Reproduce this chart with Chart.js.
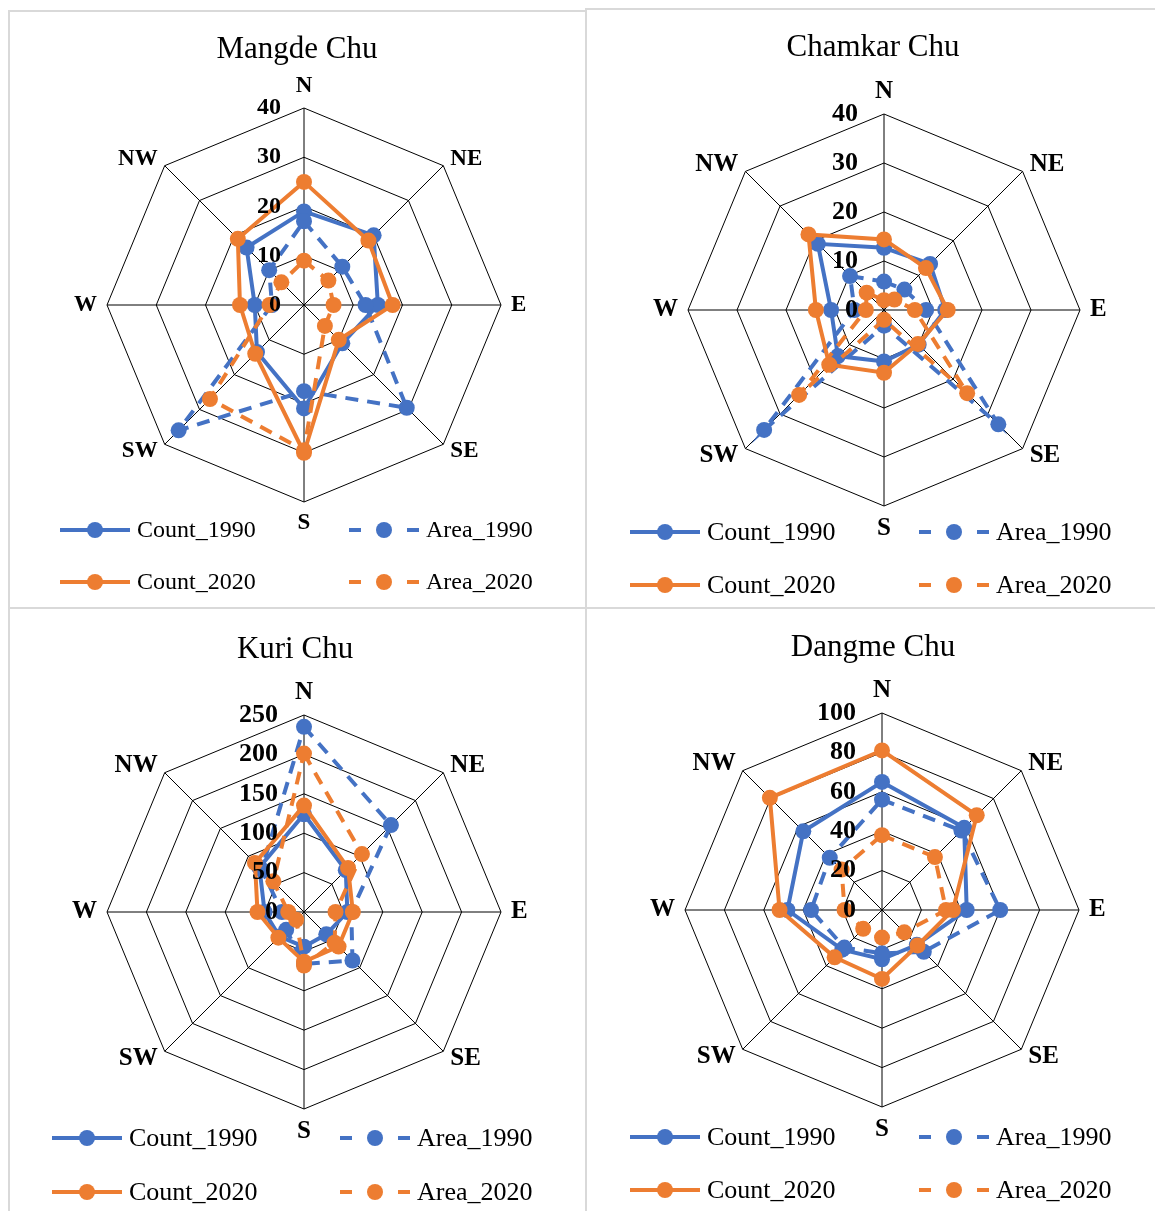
<!DOCTYPE html>
<html>
<head>
<meta charset="utf-8">
<script src="https://cdn.jsdelivr.net/npm/chart.js@4.4.1/dist/chart.umd.min.js"></script>
<style>
  body { margin: 0; background: #fff; }
  #page { position: relative; width: 1155px; height: 1211px; overflow: hidden; }
  .panel { position: absolute; box-sizing: border-box; border: 2px solid #d9d9d9; }
  canvas { position: absolute; }
</style>
</head>
<body>
<div id="page">
  <div class="panel" style="left:8px;top:10px;width:579px;height:599px"></div>
  <div class="panel" style="left:585px;top:8px;width:572px;height:601px"></div>
  <div class="panel" style="left:8px;top:607px;width:579px;height:606px"></div>
  <div class="panel" style="left:585px;top:607px;width:572px;height:606px"></div>
  <canvas id="mangde" width="577" height="597" style="left:8px;top:10px"></canvas>
  <canvas id="chamkar" width="570" height="599" style="left:585px;top:8px"></canvas>
  <canvas id="kuri" width="577" height="604" style="left:8px;top:607px"></canvas>
  <canvas id="dangme" width="570" height="604" style="left:585px;top:607px"></canvas>
</div>
<script>
const directions = ['N', 'NE', 'E', 'SE', 'S', 'SW', 'W', 'NW'];

// Mangde Chu
const mangdeCount1990 = [19, 20, 15, 11, 21, 13.5, 10, 16.5];
const mangdeArea1990  = [17, 11, 12.5, 29.5, 17.5, 36, 6.5, 10];
const mangdeCount2020 = [25, 18.5, 18, 10, 30, 14, 13, 19];
const mangdeArea2020  = [9, 7, 6, 6, 29.5, 27, 7, 6.5];
const mangdeTicks = [0, 10, 20, 30, 40];

// Chamkar Chu
const chamkarCount1990 = [12.7, 13.3, 12.5, 10, 10.5, 13.3, 10.8, 19.1];
const chamkarArea1990  = [5.8, 5.9, 8.6, 33, 3.2, 34.6, 6, 9.8];
const chamkarCount2020 = [14.4, 12.1, 13, 9.8, 12.8, 15.8, 13.9, 21.8];
const chamkarArea2020  = [2, 3, 6.3, 24, 2, 24.5, 3.7, 5];
const chamkarTicks = [0, 10, 20, 30, 40];

// Kuri Chu
const kuriCount1990 = [124, 75, 55, 40, 44, 44, 50, 80];
const kuriArea1990  = [235, 156, 60, 87, 66, 32, 28, 76];
const kuriCount2020 = [135, 79, 62, 62, 63, 46, 59, 88];
const kuriArea2020  = [201, 104, 40, 55, 68, 14, 20, 55];
const kuriTicks = [0, 50, 100, 150, 200, 250];

// Dangme Chu
const dangmeCount1990 = [65, 59, 43, 25, 25, 28.5, 48, 56.5];
const dangmeArea1990  = [56, 57, 60, 30, 22, 27, 36, 37.5];
const dangmeCount2020 = [81, 68, 36, 25.5, 35, 34, 52, 80.5];
const dangmeArea2020  = [38, 38, 32.5, 16, 14, 13.5, 19, 29];
const dangmeTicks = [0, 20, 40, 60, 80, 100];

const BLUE = '#4472C4';
const ORANGE = '#ED7D31';
const SERIF = "'Times New Roman', 'Liberation Serif', serif";

function seriesSet(c90, a90, c20, a20) {
    return [
        { label: 'Count_1990', data: c90, borderColor: BLUE, backgroundColor: BLUE, order: 4 },
        { label: 'Area_1990', data: a90, borderColor: BLUE, backgroundColor: BLUE, borderDash: [13, 9], order: 3 },
        { label: 'Count_2020', data: c20, borderColor: ORANGE, backgroundColor: ORANGE, order: 2 },
        { label: 'Area_2020', data: a20, borderColor: ORANGE, backgroundColor: ORANGE, borderDash: [13, 9], order: 1 }
    ];
}

// titles, direction labels, tick labels and the 2x2 legend
const decor = {
    id: 'decor',
    afterDraw(chart, args, o) {
        const ctx = chart.ctx;
        const r = chart.scales.r;
        ctx.save();
        ctx.fillStyle = '#000';

        // title
        ctx.font = '31px ' + SERIF;
        ctx.textAlign = 'center';
        ctx.textBaseline = 'middle';
        ctx.fillText(o.title, o.titleX - o.left, o.titleY - o.top);

        // direction labels
        ctx.font = 'bold ' + o.labelSize + 'px ' + SERIF;
        chart.data.labels.forEach(function (lab, i) {
            const p = r.getPointPosition(i, r.drawingArea + 10);
            const dx = p.x - r.xCenter;
            const dy = p.y - r.yCenter;
            if (Math.abs(dx) < 1) {
                ctx.textAlign = 'center';
                ctx.textBaseline = dy < 0 ? 'bottom' : 'top';
            } else {
                ctx.textAlign = dx > 0 ? 'left' : 'right';
                ctx.textBaseline = 'middle';
            }
            ctx.fillText(lab, p.x, p.y);
        });

        // tick labels, left of the N axis
        ctx.font = 'bold ' + o.tickSize + 'px ' + SERIF;
        ctx.textAlign = 'right';
        ctx.textBaseline = 'middle';
        r.ticks.forEach(function (t) {
            const d = r.getDistanceFromCenterForValue(t.value);
            ctx.fillText(String(t.value), r.xCenter - o.tickGap, r.yCenter - d);
        });

        // legend
        ctx.font = o.legendSize + 'px ' + SERIF;
        ctx.textAlign = 'left';
        chart.data.datasets.forEach(function (ds, i) {
            const y = o.legendRows[Math.floor(i / 2)] - o.top;
            const x1 = o.legendCols[i % 2] - o.left;
            const x2 = x1 + 70;
            const xm = (x1 + x2) / 2;
            ctx.strokeStyle = ds.borderColor;
            ctx.lineWidth = 4;
            ctx.beginPath();
            if (ds.borderDash) {
                ctx.moveTo(x1, y); ctx.lineTo(x1 + 12, y);
                ctx.moveTo(x2 - 12, y); ctx.lineTo(x2, y);
            } else {
                ctx.moveTo(x1, y); ctx.lineTo(x2, y);
            }
            ctx.stroke();
            ctx.fillStyle = ds.backgroundColor;
            ctx.beginPath();
            ctx.arc(xm, y, 8, 0, Math.PI * 2);
            ctx.fill();
            ctx.fillStyle = '#000';
            ctx.fillText(ds.label, x2 + 7, y + 1);
        });
        ctx.restore();
    }
};

function makeRadar(id, title, datasets, ticks, g) {
    const canvas = document.getElementById(id);
    const left = g.left, top = g.top;
    const cx = g.cx - left, cy = g.cy - top;
    const pad = {
        left: cx - g.radius,
        top: cy - g.radius,
        right: canvas.width - (cx + g.radius),
        bottom: canvas.height - (cy + g.radius)
    };
    return new Chart(canvas.getContext('2d'), {
        type: 'radar',
        data: { labels: directions, datasets: datasets },
        options: {
            responsive: false,
            animation: false,
            devicePixelRatio: 1,
            layout: { padding: pad },
            elements: {
                line: { borderWidth: 4, tension: 0, fill: false },
                point: { radius: 8, borderWidth: 0, hoverRadius: 8 }
            },
            scales: {
                r: {
                    min: ticks[0],
                    max: ticks[ticks.length - 1],
                    ticks: { stepSize: ticks[1] - ticks[0], display: false },
                    grid: { color: '#000', lineWidth: 1 },
                    angleLines: { color: '#000', lineWidth: 1 },
                    pointLabels: { display: false }
                }
            },
            plugins: {
                legend: { display: false },
                tooltip: { enabled: false },
                decor: {
                    title: title, titleX: g.titleX, titleY: g.titleY, left: left, top: top,
                    labelSize: g.labelSize, tickSize: g.tickSize, tickGap: g.tickGap,
                    legendSize: g.legendSize, legendRows: g.legendRows, legendCols: g.legendCols
                }
            }
        },
        plugins: [decor]
    });
}

makeRadar('mangde', 'Mangde Chu',
    seriesSet(mangdeCount1990, mangdeArea1990, mangdeCount2020, mangdeArea2020), mangdeTicks,
    { left: 8, top: 10, cx: 304, cy: 305, radius: 197, titleX: 297, titleY: 50,
      labelSize: 23, tickSize: 24, tickGap: 23, legendSize: 24,
      legendRows: [530, 582], legendCols: [60, 349] });

makeRadar('chamkar', 'Chamkar Chu',
    seriesSet(chamkarCount1990, chamkarArea1990, chamkarCount2020, chamkarArea2020), chamkarTicks,
    { left: 585, top: 8, cx: 884, cy: 310, radius: 196, titleX: 873, titleY: 48,
      labelSize: 25, tickSize: 26, tickGap: 26, legendSize: 26,
      legendRows: [532, 585], legendCols: [630, 919] });

makeRadar('kuri', 'Kuri Chu',
    seriesSet(kuriCount1990, kuriArea1990, kuriCount2020, kuriArea2020), kuriTicks,
    { left: 8, top: 607, cx: 304, cy: 912, radius: 197, titleX: 295, titleY: 650,
      labelSize: 25, tickSize: 26, tickGap: 26, legendSize: 26,
      legendRows: [1138, 1192], legendCols: [52, 340] });

makeRadar('dangme', 'Dangme Chu',
    seriesSet(dangmeCount1990, dangmeArea1990, dangmeCount2020, dangmeArea2020), dangmeTicks,
    { left: 585, top: 607, cx: 882, cy: 910, radius: 197, titleX: 873, titleY: 648,
      labelSize: 25, tickSize: 26, tickGap: 26, legendSize: 26,
      legendRows: [1137, 1190], legendCols: [630, 919] });
</script>
</body>
</html>
